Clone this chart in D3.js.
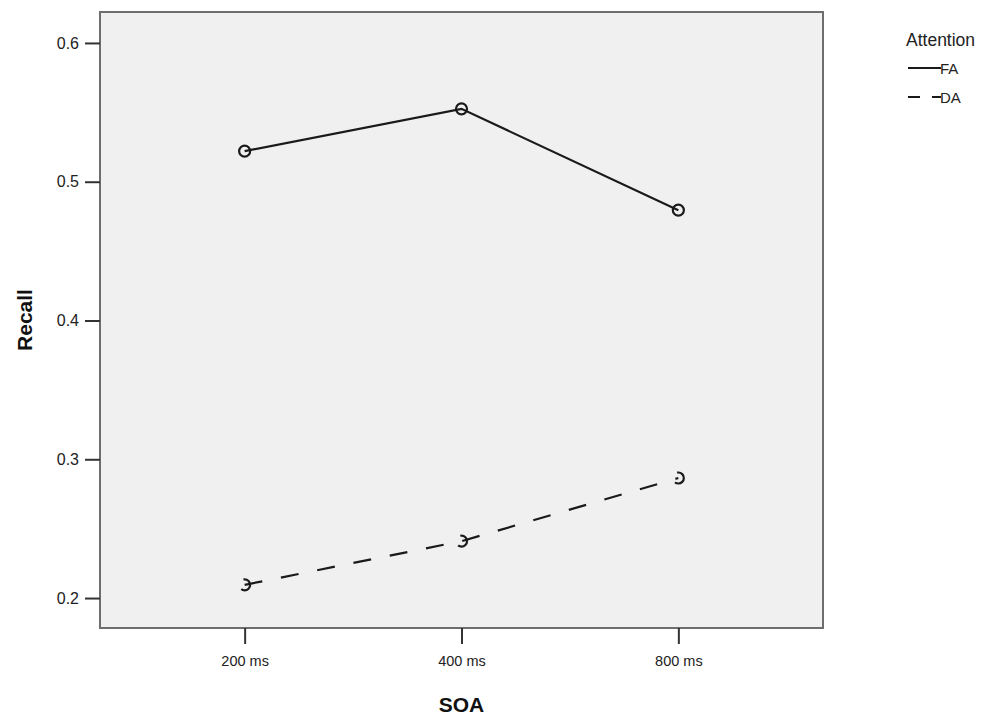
<!DOCTYPE html>
<html><head><meta charset="utf-8">
<script src="https://cdn.jsdelivr.net/npm/d3@7"></script>
<style>body{margin:0;background:#fff;} text{font-family:"Liberation Sans",Arial,sans-serif;}</style>
</head><body>
<svg id="c" width="1003" height="715"></svg>
<script>
const categories = ["200 ms", "400 ms", "800 ms"];
const seriesNames = ["FA", "DA"];
const valuesFA = [0.522, 0.5525, 0.4795];
const valuesDA = [0.2095, 0.241, 0.2865];
const yTicks = [0.2, 0.3, 0.4, 0.5, 0.6];

const svg = d3.select("#c");
const L = 100, R = 823, T = 12, B = 628;
const x = d3.scalePoint().domain(categories).range([L, R]).padding(0.667);
const y = d3.scaleLinear().domain([0.2 - 30/1390, 0.6 + 31/1390]).range([B, T]);

svg.append("rect").attr("x", L).attr("y", T).attr("width", R - L).attr("height", B - T)
  .attr("fill", "#f0f0f0").attr("stroke", "#6e6e6e").attr("stroke-width", 2);

const yAxis = svg.append("g").attr("transform", `translate(${L},0)`)
  .call(d3.axisLeft(y).tickValues(yTicks).tickFormat(d3.format(".1f")).tickSize(15).tickPadding(6));
yAxis.select(".domain").remove();
yAxis.selectAll("line").attr("stroke", "#333").attr("stroke-width", 2);
yAxis.selectAll("text").attr("font-size", 16).attr("fill", "#222");

const xAxis = svg.append("g").attr("transform", `translate(0,${B})`)
  .call(d3.axisBottom(x).tickSize(16).tickPadding(12));
xAxis.select(".domain").remove();
xAxis.selectAll("line").attr("stroke", "#333").attr("stroke-width", 2);
xAxis.selectAll("text").attr("font-size", 14.5).attr("fill", "#222");

svg.append("text").attr("transform", `translate(32,${(T+B)/2}) rotate(-90)`)
  .attr("text-anchor", "middle").attr("font-size", 21).attr("font-weight", "bold").attr("fill", "#111").text("Recall");
svg.append("text").attr("x", x("400 ms")).attr("y", 712)
  .attr("text-anchor", "middle").attr("font-size", 21).attr("font-weight", "bold").attr("fill", "#111").text("SOA");

const series = [
  {name: seriesNames[0], vals: valuesFA, dash: null},
  {name: seriesNames[1], vals: valuesDA, dash: "18,19"}
];
const line = d3.line().x((d, i) => x(categories[i])).y(d => y(d));
series.forEach(s => {
  svg.append("path").datum(s.vals).attr("d", line).attr("fill", "none")
    .attr("stroke", "#1a1a1a").attr("stroke-width", 2.2).attr("stroke-dasharray", s.dash);
  svg.selectAll(null).data(s.vals).enter().append("circle")
    .attr("cx", (d, i) => x(categories[i])).attr("cy", d => y(d)).attr("r", 5.5)
    .attr("fill", "none").attr("stroke", "#1a1a1a").attr("stroke-width", 2.2)
    .attr("stroke-dasharray", s.dash ? "16,12" : null).attr("stroke-dashoffset", s.dash ? 4 : null);
});

// legend
svg.append("text").attr("x", 906).attr("y", 46).attr("font-size", 17.5).attr("fill", "#222").text("Attention");
series.forEach((s, i) => {
  const ly = 68 + i * 29;
  svg.append("line").attr("x1", 908).attr("x2", 941).attr("y1", ly).attr("y2", ly)
    .attr("stroke", "#1a1a1a").attr("stroke-width", 2).attr("stroke-dasharray", s.dash ? "12,12" : null);
  svg.append("text").attr("x", 940).attr("y", ly + 5.5).attr("font-size", 15).attr("fill", "#222").text(s.name);
});
</script>
</body></html>
